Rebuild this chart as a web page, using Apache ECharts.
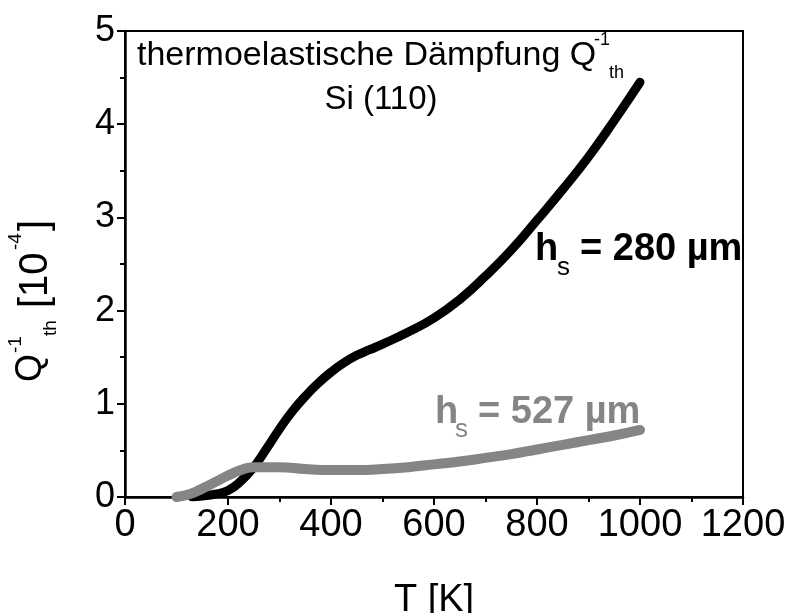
<!DOCTYPE html>
<html>
<head>
<meta charset="utf-8">
<title>thermoelastische Dämpfung</title>
<script src="https://cdn.jsdelivr.net/npm/echarts@6/dist/echarts.min.js"></script>
<style>
  html, body { margin: 0; padding: 0; background: #fff; }
  #main { width: 791px; height: 613px; }
</style>
</head>
<body>
<div id="main"></div>
<script>
// h_s = 280 um (black)
var temp280 = [130, 150, 175, 200, 225, 250, 275, 300, 325, 350, 375, 400, 425, 450, 475, 500, 550, 600, 650, 700, 750, 800, 850, 900, 950, 1000];
var q280    = [0.00, 0.01, 0.03, 0.07, 0.17, 0.32, 0.52, 0.73, 0.92, 1.08, 1.22, 1.34, 1.44, 1.52, 1.58, 1.64, 1.77, 1.92, 2.12, 2.37, 2.65, 2.97, 3.30, 3.65, 4.04, 4.45];
// h_s = 527 um (grey)
var temp527 = [100, 125, 150, 175, 200, 225, 250, 300, 350, 400, 450, 500, 550, 600, 650, 700, 750, 800, 850, 900, 950, 1000];
var q527    = [0.00, 0.03, 0.09, 0.16, 0.23, 0.29, 0.32, 0.32, 0.30, 0.29, 0.29, 0.30, 0.32, 0.35, 0.38, 0.42, 0.46, 0.51, 0.56, 0.61, 0.66, 0.72];

var xTicks = { min: 0, max: 1200, interval: 200 };
var yTicks = { min: 0, max: 5, interval: 1 };

function pairs(xs, ys) {
    var out = [];
    for (var i = 0; i < xs.length; i++) out.push([xs[i], ys[i]]);
    return out;
}

var FONT = 'Liberation Sans';
var GREY = '#858585';
var chart = echarts.init(document.getElementById('main'), null, { renderer: 'canvas' });

var option = {
    animation: false,
    backgroundColor: '#fff',
    grid: {
        left: 125, top: 31, right: 48, bottom: 116,
        outerBoundsMode: 'none',
        show: true, borderColor: '#000', borderWidth: 2
    },
    xAxis: {
        type: 'value',
        min: xTicks.min, max: xTicks.max, interval: xTicks.interval,
        name: 'T [K]',
        nameLocation: 'middle',
        nameGap: 85,
        nameTextStyle: { fontFamily: FONT, fontSize: 38, color: '#000' },
        axisLine: { show: true, lineStyle: { color: '#000', width: 2.5 } },
        axisTick: { show: true, length: 8, lineStyle: { color: '#000', width: 2 } },
        minorTick: { show: true, splitNumber: 2, length: 5, lineStyle: { color: '#000', width: 2 } },
        splitLine: { show: false },
        axisLabel: {
            fontFamily: FONT, fontSize: 38, color: '#000', margin: 10,
            formatter: function (v) { return String(v); }
        }
    },
    yAxis: {
        type: 'value',
        min: yTicks.min, max: yTicks.max, interval: yTicks.interval,
        axisLine: { show: true, lineStyle: { color: '#000', width: 2.5 } },
        axisTick: { show: true, length: 8, lineStyle: { color: '#000', width: 2 } },
        minorTick: { show: true, splitNumber: 2, length: 5, lineStyle: { color: '#000', width: 2 } },
        splitLine: { show: false },
        axisLabel: { fontFamily: FONT, fontSize: 36, color: '#000', margin: 10 }
    },
    series: [
        {
            name: 'h_s = 280 µm',
            type: 'line',
            smooth: true,
            symbol: 'none',
            data: pairs(temp280, q280),
            lineStyle: { color: '#000', width: 9, cap: 'round' },
            z: 2
        },
        {
            name: 'h_s = 527 µm',
            type: 'line',
            smooth: true,
            symbol: 'none',
            data: pairs(temp527, q527),
            lineStyle: { color: GREY, width: 10, cap: 'round' },
            z: 3
        }
    ],
    graphic: [
        // title lines
        { type: 'text', x: 137, y: 56, style: { text: 'thermoelastische Dämpfung Q', font: '34px "Liberation Sans"', fill: '#000', verticalAlign: 'middle' } },
        { type: 'text', x: 594, y: 40, style: { text: '-1', font: '18px "Liberation Sans"', fill: '#000', verticalAlign: 'middle' } },
        { type: 'text', x: 609, y: 73, style: { text: 'th', font: '18px "Liberation Sans"', fill: '#000', verticalAlign: 'middle' } },
        { type: 'text', x: 381, y: 100, style: { text: 'Si (110)', font: '33px "Liberation Sans"', fill: '#000', align: 'center', verticalAlign: 'middle' } },

        // curve labels
        { type: 'text', x: 535, y: 250, style: { text: 'h', font: 'bold 38px "Liberation Sans"', fill: '#000', verticalAlign: 'middle' } },
        { type: 'text', x: 557, y: 268, style: { text: 's', font: '26px "Liberation Sans"', fill: '#000', verticalAlign: 'middle' } },
        { type: 'text', x: 580, y: 250, style: { text: '= 280 µm', font: 'bold 38px "Liberation Sans"', fill: '#000', verticalAlign: 'middle' } },

        { type: 'text', x: 435, y: 413, style: { text: 'h', font: 'bold 38px "Liberation Sans"', fill: GREY, verticalAlign: 'middle' } },
        { type: 'text', x: 455, y: 430, style: { text: 's', font: '26px "Liberation Sans"', fill: GREY, verticalAlign: 'middle' } },
        { type: 'text', x: 478, y: 413, style: { text: '= 527 µm', font: 'bold 38px "Liberation Sans"', fill: GREY, verticalAlign: 'middle' } },

        // y axis title, rotated
        {
            type: 'group', x: 31, y: 382, rotation: Math.PI / 2,
            children: [
                { type: 'text', x: 0, y: 0, style: { text: 'Q', font: '36px "Liberation Sans"', fill: '#000', verticalAlign: 'middle' } },
                { type: 'text', x: 29, y: -15, style: { text: '-1', font: '19px "Liberation Sans"', fill: '#000', verticalAlign: 'middle' } },
                { type: 'text', x: 46, y: 20, style: { text: 'th', font: '19px "Liberation Sans"', fill: '#000', verticalAlign: 'middle' } },
                { type: 'text', x: 74, y: 5, style: { text: '[10', font: '40px "Liberation Sans"', fill: '#000', verticalAlign: 'middle' } },
                { type: 'text', x: 132, y: -15, style: { text: '-4', font: '19px "Liberation Sans"', fill: '#000', verticalAlign: 'middle' } },
                { type: 'text', x: 151, y: 5, style: { text: ']', font: '40px "Liberation Sans"', fill: '#000', verticalAlign: 'middle' } }
            ]
        }
    ]
};
chart.setOption(option);
</script>
</body>
</html>
